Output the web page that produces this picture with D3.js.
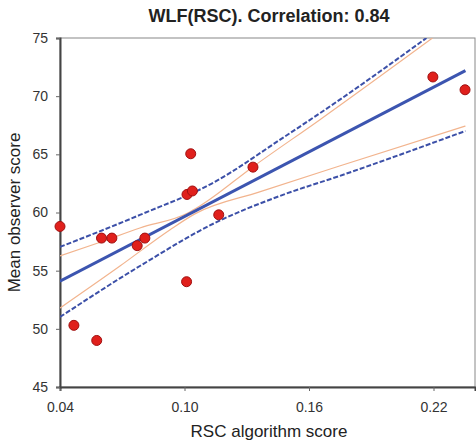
<!DOCTYPE html>
<html>
<head>
<meta charset="utf-8">
<script src="https://cdn.jsdelivr.net/npm/d3@7"></script>
<style>
body{margin:0;background:white;}
text{font-family:"Liberation Sans",Arial,sans-serif;fill:#222;}
.title{font-weight:bold;font-size:18px;}
.label{font-size:17px;}
.tick text{font-size:14px;fill:#333;}
</style>
</head>
<body>
<svg id="chart"></svg>
<script>
// observed points
var rscScore=[0.040,0.0467,0.0577,0.0600,0.0650,0.0772,0.0809,0.1010,0.1030,0.1012,0.1038,0.1165,0.1330,0.2197,0.2352]
var observerScore=[58.8,50.3,49.0,57.8,57.8,57.15,57.8,54.05,65.05,61.55,61.85,59.8,63.9,71.65,70.55]

// regression line ends
var fitX=[0.040,0.2354]
var fitY=[54.1,72.2]

// inner (orange) band
var innerUpX=[0.040,0.0583,0.0785,0.1016,0.1074,0.1329,0.1651,0.2195]
var innerUpY=[56.26,57.38,58.67,59.96,60.56,63.92,67.96,75.0]
var innerLowX=[0.040,0.0689,0.0929,0.1050,0.1362,0.1747,0.2354]
var innerLowY=[51.79,55.40,58.50,59.88,61.77,64.00,67.44]

// outer (dashed) band
var outerUpX=[0.040,0.0785,0.1146,0.1459,0.1733,0.2166]
var outerUpY=[57.04,59.79,62.63,66.24,69.51,75.0]
var outerLowX=[0.040,0.0785,0.1146,0.1459,0.1747,0.2354]
var outerLowY=[51.02,55.40,59.10,61.42,63.14,67.01]

var xTicks=[0.04,0.10,0.16,0.22]
var yTicks=[45,50,55,60,65,70,75]

var zipUp=function(xs,ys)
{
    return xs.map(function(x,i){return {x:x,y:ys[i]};});
}

var initGraph=function()
{
    var screen={width:476,height:443}
    var margins={left:60,right:1,top:38,bottom:56}
    var graph=
        {
            width:screen.width-margins.left-margins.right,
            height:screen.height-margins.top-margins.bottom
        }

    var svg=d3.select("#chart")
        .attr("width",screen.width)
        .attr("height",screen.height)

    var xScale=d3.scaleLinear()
        .domain([0.04,0.24])
        .range([0,graph.width])
    var yScale=d3.scaleLinear()
        .domain([45,75])
        .range([graph.height,0])

    svg.append("defs").append("clipPath")
        .attr("id","plotClip")
        .append("rect")
        .attr("width",graph.width)
        .attr("height",graph.height)

    var target=svg.append("g")
        .attr("transform","translate("+margins.left+","+margins.top+")")

    //frame
    target.append("rect")
        .attr("width",graph.width)
        .attr("height",graph.height)
        .attr("fill","none")
        .attr("stroke","#888")
        .attr("stroke-width",1)

    //axes
    var xAxis=d3.axisBottom(xScale)
        .tickValues(xTicks)
        .tickFormat(d3.format(".2f"))
        .tickSize(4)
        .tickPadding(11)
    var yAxis=d3.axisLeft(yScale)
        .tickValues(yTicks)
        .tickSize(4)
        .tickPadding(8)

    var gx=target.append("g")
        .attr("transform","translate(0,"+graph.height+")")
        .call(xAxis)
    var gy=target.append("g")
        .call(yAxis)
    gx.select(".domain").attr("stroke","#444").attr("stroke-width",2)
    gy.select(".domain").attr("stroke","#444").attr("stroke-width",2)
    gx.selectAll(".tick line").attr("stroke","#666")
    gy.selectAll(".tick line").attr("stroke","#666")

    var line=d3.line()
        .curve(d3.curveMonotoneX)
        .x(function(d){return xScale(d.x);})
        .y(function(d){return yScale(d.y);})

    var lines=target.append("g")
        .attr("clip-path","url(#plotClip)")

    lines.append("path")
        .datum(zipUp(innerUpX,innerUpY))
        .attr("d",line)
        .attr("fill","none")
        .attr("stroke","#f2b48e")
        .attr("stroke-width",1.2)
    lines.append("path")
        .datum(zipUp(innerLowX,innerLowY))
        .attr("d",line)
        .attr("fill","none")
        .attr("stroke","#f2b48e")
        .attr("stroke-width",1.2)

    lines.append("path")
        .datum(zipUp(outerUpX,outerUpY))
        .attr("d",line)
        .attr("fill","none")
        .attr("stroke","#3c50a8")
        .attr("stroke-width",2)
        .attr("stroke-dasharray","5,2")
    lines.append("path")
        .datum(zipUp(outerLowX,outerLowY))
        .attr("d",line)
        .attr("fill","none")
        .attr("stroke","#3c50a8")
        .attr("stroke-width",2)
        .attr("stroke-dasharray","5,2")

    lines.append("path")
        .datum(zipUp(fitX,fitY))
        .attr("d",line)
        .attr("fill","none")
        .attr("stroke","#3c55b0")
        .attr("stroke-width",3)

    //points
    target.append("g")
        .selectAll("circle")
        .data(zipUp(rscScore,observerScore))
        .enter()
        .append("circle")
        .attr("cx",function(d){return xScale(d.x);})
        .attr("cy",function(d){return yScale(d.y);})
        .attr("r",5)
        .attr("fill","#e0201c")
        .attr("stroke","#a01010")
        .attr("stroke-width",1)

    //labels
    var labels=svg.append("g")
    labels.append("text")
        .text("WLF(RSC). Correlation: 0.84")
        .classed("title",true)
        .attr("text-anchor","middle")
        .attr("x",269)
        .attr("y",22)
    labels.append("text")
        .text("RSC algorithm score")
        .classed("label",true)
        .attr("text-anchor","middle")
        .attr("x",269)
        .attr("y",437)
    labels.append("g")
        .attr("transform","translate(20,"+(margins.top+graph.height/2)+")")
        .append("text")
        .text("Mean observer score")
        .classed("label",true)
        .attr("text-anchor","middle")
        .attr("transform","rotate(270)")
}

initGraph();
</script>
</body>
</html>
